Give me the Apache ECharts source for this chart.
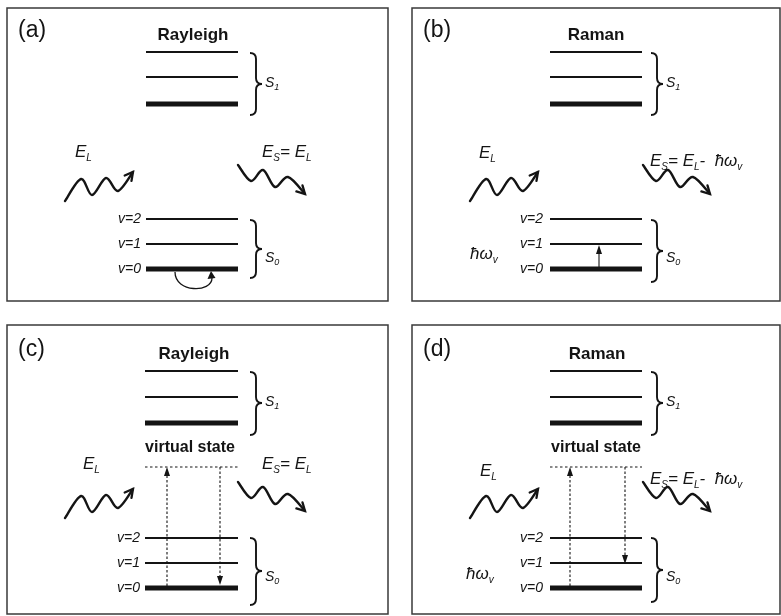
<!DOCTYPE html>
<html><head><meta charset="utf-8">
<script src="https://cdn.jsdelivr.net/npm/echarts@6/dist/echarts.min.js"></script>
<style>html,body{margin:0;padding:0;background:#fff}#c{width:781px;height:616px}</style>
</head><body><div id="c"></div>
<script>
// ---------------- data ----------------
const panelTags = ['(a)', '(b)', '(c)', '(d)'];
const panelTitles = ['Rayleigh', 'Raman', 'Rayleigh', 'Raman'];
const vibLabels = ['v=0', 'v=1', 'v=2'];
const virtualName = 'virtual state';
// level heights (panel-local axis units), index 0 = lowest
const s0Levels = [[261, 236, 211], [261, 236, 211], [263, 238, 213], [263, 238, 213]];
const s1Levels = [[96, 69, 44], [96, 69, 44], [98, 72, 46], [98, 72, 46]];
const levelSpan = [[139, 231], [138, 230], [138, 231], [138, 230]];
const virtualLevel = [null, null, 142, 142];
// braces: [left x, top, bottom, tip]
const s1Brace = [[243, 45, 107, 76], [239, 45, 107, 76], [243, 47, 110, 78], [239, 47, 110, 78]];
const s0Brace = [[243, 212, 270, 241], [239, 212, 274, 243], [243, 213, 280, 246], [239, 213, 277, 245]];
// photon waves: points along the wavy arrow (x,y pairs)
const waveIn = [58, 193, 74, 171, 85, 187, 99, 170, 111, 183, 126, 164];
const waveOut = [231, 157, 244, 173, 256, 162, 268, 179, 281, 169, 298, 186];
// transitions: [x, from, to, dashed]
const transitions = [
  [],
  [[187, 259, 237, 0]],
  [[160, 261, 142, 1], [213, 142, 260, 1]],
  [[158, 261, 142, 1], [213, 142, 239, 1]]
];
// elastic loop on v=0 in (a): [x start, x end, y, depth]
const loopArrow = [[168, 205, 264, 21], null, null, null];
// formula labels (text, isSubscript)
const inLabel = [['E', 0], ['L', 1]];
const rayleighOut = [['E', 0], ['S', 1], ['= E', 0], ['L', 1]];
const ramanOut = [['E', 0], ['S', 1], ['= E', 0], ['L', 1], ['-  ħω', 0], ['v', 1]];
const outLabels = [rayleighOut, ramanOut, rayleighOut, ramanOut];
const hwLabel = [['ħω', 0], ['v', 1]];

// ---------------- layout ----------------
const panelBoxes = [[7, 8, 381, 293], [412, 8, 368, 293], [7, 325, 381, 289], [412, 325, 368, 289]];
const layout = [
  {tag: [11, 31], title: [186, 33], s1Lab: [258, 80], s0Lab: [258, 255], vRight: 134, eIn: [68, 150], eOut: [255, 150]},
  {tag: [11, 31], title: [184, 33], s1Lab: [254, 80], s0Lab: [254, 255], vRight: 131, eIn: [67, 151], eOut: [238, 159], hw: [58, 252]},
  {tag: [11, 33], title: [187, 35], s1Lab: [258, 82], s0Lab: [258, 257], vRight: 133, eIn: [76, 145], eOut: [255, 145], virt: [183, 128]},
  {tag: [11, 33], title: [185, 35], s1Lab: [254, 82], s0Lab: [254, 257], vRight: 131, eIn: [68, 152], eOut: [238, 160], hw: [54, 255], virt: [184, 128]}
];
const FONT = '"Liberation Sans", Arial, Helvetica, sans-serif';
const INK = '#141414';
const THIN = 2, THICK = 5;

const mctx = document.createElement('canvas').getContext('2d');
function fontStr(size, italic, bold) { return (italic ? 'italic ' : '') + (bold ? 'bold ' : '') + size + 'px ' + FONT; }
function mw(font, t) { mctx.font = font; return mctx.measureText(t).width; }

function textGroup(spec, px, py) {
  const size = spec.size, sub = spec.sub || size, drop = spec.drop || 0;
  const widths = spec.pieces.map(([t, s]) => mw(fontStr(s ? sub : size, spec.italic, spec.bold), t));
  const total = widths.reduce((a, b) => a + b, 0);
  let x = px - (spec.align === 'right' ? total : spec.align === 'center' ? total / 2 : 0);
  const children = [];
  spec.pieces.forEach(([t, s], i) => {
    const fs = s ? sub : size;
    const base = py + (s ? drop : 0);
    children.push({type: 'text', x: x, y: base - 0.355 * fs,
      style: {text: t, font: fontStr(fs, spec.italic, spec.bold), fill: INK, align: 'left', verticalAlign: 'middle'}});
    x += widths[i];
  });
  return {type: 'group', children};
}

function panelTexts(p) {
  const L = layout[p], list = [];
  list.push({pos: L.tag, pieces: [[panelTags[p], 0]], size: 23});
  list.push({pos: L.title, pieces: [[panelTitles[p], 0]], size: 17, bold: true, align: 'center'});
  list.push({pos: L.s1Lab, pieces: [['S', 0], ['1', 1]], size: 14, sub: 9, drop: 3, italic: true});
  list.push({pos: L.s0Lab, pieces: [['S', 0], ['0', 1]], size: 14, sub: 9, drop: 3, italic: true});
  s0Levels[p].forEach((y, i) => list.push({pos: [L.vRight, y + 5], pieces: [[vibLabels[i], 0]], size: 14, italic: true, align: 'right'}));
  list.push({pos: L.eIn, pieces: inLabel, size: 17, sub: 10, drop: 4, italic: true});
  list.push({pos: L.eOut, pieces: outLabels[p], size: 17, sub: 10, drop: 4, italic: true});
  if (L.hw) list.push({pos: L.hw, pieces: hwLabel, size: 17, sub: 10, drop: 4, italic: true});
  if (L.virt && virtualLevel[p] != null) list.push({pos: L.virt, pieces: [[virtualName, 0]], size: 16, bold: true, align: 'center'});
  return list;
}

function smoothPath(pts) {
  let d = 'M' + pts[0][0] + ',' + pts[0][1];
  for (let i = 0; i < pts.length - 1; i++) {
    const p0 = pts[i - 1] || pts[i], p1 = pts[i], p2 = pts[i + 1], p3 = pts[i + 2] || p2;
    const c1 = [p1[0] + (p2[0] - p0[0]) / 6, p1[1] + (p2[1] - p0[1]) / 6];
    const c2 = [p2[0] - (p3[0] - p1[0]) / 6, p2[1] - (p3[1] - p1[1]) / 6];
    d += ' C' + c1[0] + ',' + c1[1] + ' ' + c2[0] + ',' + c2[1] + ' ' + p2[0] + ',' + p2[1];
  }
  return d;
}
function chevron(tip, from, len, ang) {
  const dx = tip[0] - from[0], dy = tip[1] - from[1], n = Math.hypot(dx, dy);
  const ux = dx / n, uy = dy / n;
  const arm = s => {
    const c = Math.cos(s * ang), si = Math.sin(s * ang);
    const rx = ux * c - uy * si, ry = ux * si + uy * c;
    return [tip[0] - rx * len, tip[1] - ry * len];
  };
  const a1 = arm(1), a2 = arm(-1);
  return 'M' + a1[0] + ',' + a1[1] + ' L' + tip[0] + ',' + tip[1] + ' L' + a2[0] + ',' + a2[1];
}
function headTri(tip, dirY, w, h) {
  return [[tip[0], tip[1]], [tip[0] - w / 2, tip[1] - dirY * h], [tip[0] + w / 2, tip[1] - dirY * h]];
}

function buildSeries(p) {
  const axes = {xAxisIndex: p, yAxisIndex: p, silent: true, clip: false, animation: false};
  const out = [];
  // energy levels
  const rows = [];
  s1Levels[p].forEach((y, i) => rows.push([levelSpan[p][0], y, levelSpan[p][1], i === 0 ? 1 : 0]));
  s0Levels[p].forEach((y, i) => rows.push([levelSpan[p][0], y, levelSpan[p][1], i === 0 ? 1 : 0]));
  out.push(Object.assign({type: 'custom', data: rows, renderItem(params, api) {
    const a = api.coord([api.value(0), api.value(1)]), b = api.coord([api.value(2), api.value(1)]);
    return {type: 'line', shape: {x1: a[0], y1: a[1], x2: b[0], y2: b[1]}, style: {stroke: INK, lineWidth: api.value(3) ? THICK : THIN}};
  }}, axes));
  // virtual level
  if (virtualLevel[p] != null) {
    out.push(Object.assign({type: 'custom', data: [[levelSpan[p][0], virtualLevel[p], levelSpan[p][1]]], renderItem(params, api) {
      const a = api.coord([api.value(0), api.value(1)]), b = api.coord([api.value(2), api.value(1)]);
      return {type: 'line', shape: {x1: a[0], y1: a[1], x2: b[0], y2: b[1]}, style: {stroke: INK, lineWidth: 1.2, lineDash: [2.5, 2.5]}};
    }}, axes));
  }
  // braces
  out.push(Object.assign({type: 'custom', data: [s1Brace[p], s0Brace[p]], renderItem(params, api) {
    const t = api.coord([api.value(0), api.value(1)]), b = api.coord([api.value(0), api.value(2)]), m = api.coord([api.value(0), api.value(3)]);
    const xl = t[0], xv = xl + 6, xt = xl + 12, r = 6, yt = t[1], yb = b[1], ym = m[1];
    const d = 'M' + xl + ',' + yt + ' Q' + xv + ',' + yt + ' ' + xv + ',' + (yt + r) + ' L' + xv + ',' + (ym - r) +
      ' Q' + xv + ',' + ym + ' ' + xt + ',' + ym + ' Q' + xv + ',' + ym + ' ' + xv + ',' + (ym + r) +
      ' L' + xv + ',' + (yb - r) + ' Q' + xv + ',' + yb + ' ' + xl + ',' + yb;
    return {type: 'path', shape: {pathData: d}, style: {stroke: INK, fill: null, lineWidth: 1.9}};
  }}, axes));
  // photon waves
  out.push(Object.assign({type: 'custom', data: [waveIn, waveOut], renderItem(params, api) {
    const pts = [];
    for (let i = 0; i < 6; i++) pts.push(api.coord([api.value(2 * i), api.value(2 * i + 1)]));
    const tip = pts[pts.length - 1], prev = pts[pts.length - 2];
    return {type: 'group', children: [
      {type: 'path', shape: {pathData: smoothPath(pts)}, style: {stroke: INK, fill: null, lineWidth: 2.4, lineCap: 'round'}},
      {type: 'path', shape: {pathData: chevron(tip, prev, 9, 0.5)}, style: {stroke: INK, fill: null, lineWidth: 2.3, lineJoin: 'miter', lineCap: 'round'}}
    ]};
  }}, axes));
  // vertical transitions
  if (transitions[p].length) {
    out.push(Object.assign({type: 'custom', data: transitions[p], renderItem(params, api) {
      const a = api.coord([api.value(0), api.value(1)]), b = api.coord([api.value(0), api.value(2)]);
      const dir = b[1] > a[1] ? 1 : -1, h = 9;
      return {type: 'group', children: [
        {type: 'line', shape: {x1: a[0], y1: a[1], x2: b[0], y2: b[1] - dir * h}, style: {stroke: INK, lineWidth: 1.1, lineDash: api.value(3) ? [2.5, 2] : null}},
        {type: 'polygon', shape: {points: headTri(b, dir, 6, h)}, style: {fill: INK}}
      ]};
    }}, axes));
  }
  // elastic loop
  if (loopArrow[p]) {
    out.push(Object.assign({type: 'custom', data: [loopArrow[p]], renderItem(params, api) {
      const a = api.coord([api.value(0), api.value(2)]), b = api.coord([api.value(1), api.value(2)]);
      const dep = api.value(3);
      const d = 'M' + a[0] + ',' + a[1] + ' C' + a[0] + ',' + (a[1] + dep) + ' ' + b[0] + ',' + (b[1] + dep) + ' ' + b[0] + ',' + (b[1] + 6);
      return {type: 'group', children: [
        {type: 'path', shape: {pathData: d}, style: {stroke: INK, fill: null, lineWidth: 1.3}},
        {type: 'polygon', shape: {points: [[b[0] - 1, b[1] - 1], [b[0] - 4.5, b[1] + 7], [b[0] + 3.5, b[1] + 6]]}, style: {fill: INK}}
      ]};
    }}, axes));
  }
  // texts
  const specs = panelTexts(p);
  out.push(Object.assign({type: 'custom', data: specs.map(s => s.pos), renderItem(params, api) {
    const c = api.coord([api.value(0), api.value(1)]);
    return textGroup(specs[params.dataIndex], c[0], c[1]);
  }}, axes));
  return out;
}

const chart = echarts.init(document.getElementById('c'));
const series = [];
for (let p = 0; p < 4; p++) series.push(...buildSeries(p));
chart.setOption({
  animation: false,
  backgroundColor: '#fff',
  grid: panelBoxes.map(b => ({left: b[0], top: b[1], width: b[2], height: b[3], show: true, borderColor: '#3a3a3a', borderWidth: 1.5, backgroundColor: '#fff', containLabel: false, outerBoundsMode: 'none'})),
  xAxis: panelBoxes.map((b, i) => ({type: 'value', gridIndex: i, min: 0, max: b[2], show: false})),
  yAxis: panelBoxes.map((b, i) => ({type: 'value', gridIndex: i, min: 0, max: b[3], inverse: true, show: false})),
  series: series
});
</script></body></html>
